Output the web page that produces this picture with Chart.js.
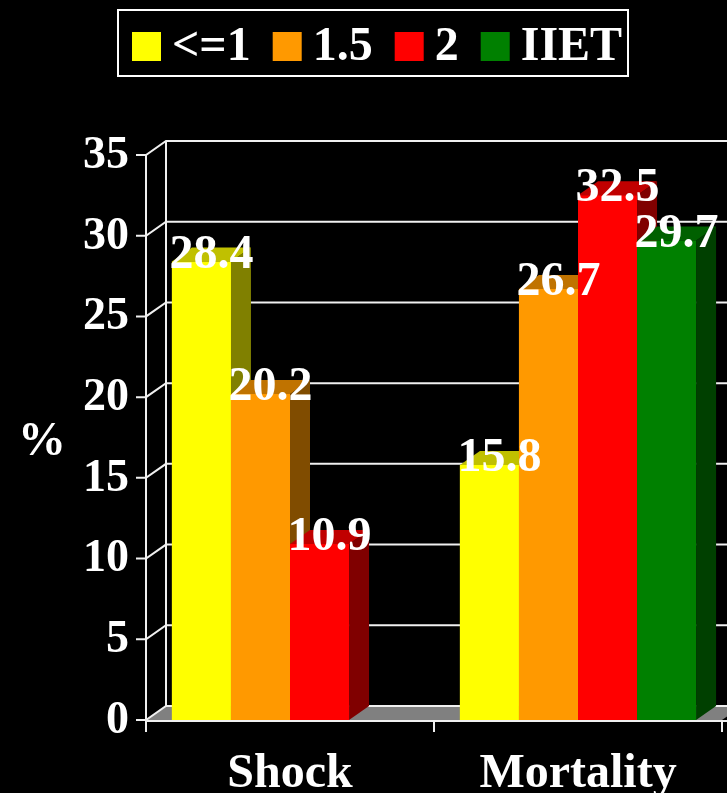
<!DOCTYPE html>
<html>
<head>
<meta charset="utf-8">
<script src="https://cdn.jsdelivr.net/npm/chart.js@4.4.1/dist/chart.umd.min.js"></script>
<style>
  html, body { margin: 0; padding: 0; background: #000; }
</style>
</head>
<body>
<canvas id="outcomeChart" width="727" height="793"></canvas>
<script>
const categories = ["Shock", "Mortality"];
const seriesNames = ["<=1", "1.5", "2", "IIET"];
const le1 = [28.4, 15.8];
const p15 = [20.2, 26.7];
const p2 = [10.9, 32.5];
const iiet = [null, 29.7];

const frontColors = ["#ffff00", "#ff9900", "#ff0000", "#008000"];
const sideColors = ["#808000", "#804c00", "#800000", "#004000"];
const topColors = ["#c0c000", "#c07300", "#c00000", "#006000"];

const serif = '"Liberation Serif", "Times New Roman", serif';
const DX = 20, DY = -14; // depth offset of the 3D box
const LINE = "#f0f0f0";

// back wall, floor and front axis lines
const wallPlugin = {
  id: "wall",
  beforeDatasetsDraw(chart) {
    const { ctx, chartArea: a, scales: { y } } = chart;
    const farRight = a.right + DX;
    ctx.save();
    // grey floor
    ctx.fillStyle = "#808080";
    ctx.beginPath();
    ctx.moveTo(a.left, a.bottom);
    ctx.lineTo(a.left + DX, a.bottom + DY);
    ctx.lineTo(farRight, a.bottom + DY);
    ctx.lineTo(a.right, a.bottom);
    ctx.closePath();
    ctx.fill();

    ctx.strokeStyle = LINE;
    ctx.lineWidth = 2;
    y.ticks.forEach(t => {
      const py = y.getPixelForValue(t.value);
      ctx.beginPath();
      ctx.moveTo(a.left - 10, py);
      ctx.lineTo(a.left, py);
      ctx.lineTo(a.left + DX, py + DY);
      ctx.lineTo(farRight, py + DY);
      ctx.stroke();
    });
    // back wall edge and front axis
    ctx.beginPath();
    ctx.moveTo(a.left + DX, a.top + DY);
    ctx.lineTo(a.left + DX, a.bottom + DY);
    ctx.moveTo(a.left, a.top);
    ctx.lineTo(a.left, a.bottom + 12);
    ctx.stroke();
    ctx.restore();
  },
  afterDatasetsDraw(chart) {
    const { ctx, chartArea: a } = chart;
    ctx.save();
    // 3D faces, left to right inside each group
    chart.data.datasets.forEach((ds, i) => {
      const meta = chart.getDatasetMeta(i);
      meta.data.forEach((el, j) => {
        if (ds.data[j] == null) return;
        const { x: cx, y: top, base, width } = el.getProps(["x", "y", "base", "width"], true);
        const l = cx - width / 2, r = cx + width / 2;
        ctx.fillStyle = frontColors[i];
        ctx.fillRect(l, top, width, base - top);
        ctx.fillStyle = sideColors[i];
        ctx.beginPath();
        ctx.moveTo(r, base);
        ctx.lineTo(r + DX, base + DY);
        ctx.lineTo(r + DX, top + DY);
        ctx.lineTo(r, top);
        ctx.closePath();
        ctx.fill();
        ctx.fillStyle = topColors[i];
        ctx.beginPath();
        ctx.moveTo(l, top);
        ctx.lineTo(l + DX, top + DY);
        ctx.lineTo(r + DX, top + DY);
        ctx.lineTo(r, top);
        ctx.closePath();
        ctx.fill();
      });
    });
    // front baseline and category ticks
    ctx.strokeStyle = LINE;
    ctx.lineWidth = 2;
    ctx.beginPath();
    ctx.moveTo(a.left, a.bottom + 1);
    ctx.lineTo(a.right + DX, a.bottom + 1);
    const step = (a.right - a.left) / categories.length;
    for (let k = 1; k <= categories.length; k++) {
      ctx.moveTo(a.left + step * k, a.bottom);
      ctx.lineTo(a.left + step * k, a.bottom + 12);
    }
    ctx.stroke();

    // value labels
    ctx.fillStyle = "#fff";
    ctx.font = "bold 48px " + serif;
    ctx.textAlign = "center";
    ctx.textBaseline = "alphabetic";
    chart.data.datasets.forEach((ds, i) => {
      chart.getDatasetMeta(i).data.forEach((el, j) => {
        const v = ds.data[j];
        if (v == null) return;
        const { x: cx, y: top } = el.getProps(["x", "y"], true);
        ctx.fillText(v.toFixed(1), cx + DX / 2, top + 6);
      });
    });
    ctx.restore();
  },
  afterDraw(chart) {
    const { ctx } = chart;
    ctx.save();
    ctx.fillStyle = "#fff";
    ctx.font = "bold 48px " + serif;
    ctx.textBaseline = "alphabetic";
    ctx.textAlign = "left";
    ctx.fillText("%", 18, 455);

    // legend
    let lx = 132;
    chart.data.datasets.forEach((ds, i) => {
      ctx.fillStyle = frontColors[i];
      ctx.fillRect(lx, 32, 29, 29);
      ctx.fillStyle = "#fff";
      ctx.fillText(ds.label, lx + 40, 60);
      lx += 40 + ctx.measureText(ds.label).width + 22;
    });
    ctx.strokeStyle = "#fff";
    ctx.lineWidth = 2;
    ctx.strokeRect(118, 10, 510, 66);
    ctx.restore();
  }
};

const seriesValues = [le1, p15, p2, iiet];

new Chart(document.getElementById("outcomeChart"), {
  type: "bar",
  data: {
    labels: categories,
    datasets: seriesNames.map((name, i) => ({
      label: name,
      data: seriesValues[i],
      backgroundColor: frontColors[i],
      borderWidth: 0
    }))
  },
  options: {
    responsive: false,
    animation: false,
    layout: { padding: { top: 155, right: 5, left: 0, bottom: 0 } },
    datasets: { bar: { barPercentage: 1, categoryPercentage: 0.82 } },
    plugins: {
      legend: { display: false },
      tooltip: { enabled: false }
    },
    scales: {
      x: {
        grid: { display: false },
        border: { display: false },
        ticks: { color: "#fff", font: { family: serif, size: 48, weight: "bold" }, padding: 18 },
        afterFit(scale) { scale.height = 73; }
      },
      y: {
        min: 0,
        max: 35,
        grid: { display: false },
        border: { display: false },
        ticks: { stepSize: 5, color: "#fff", font: { family: serif, size: 46, weight: "bold" }, padding: 9, labelOffset: 1 },
        afterFit(scale) { scale.width = 146; }
      }
    }
  },
  plugins: [wallPlugin]
});
</script>
</body>
</html>
